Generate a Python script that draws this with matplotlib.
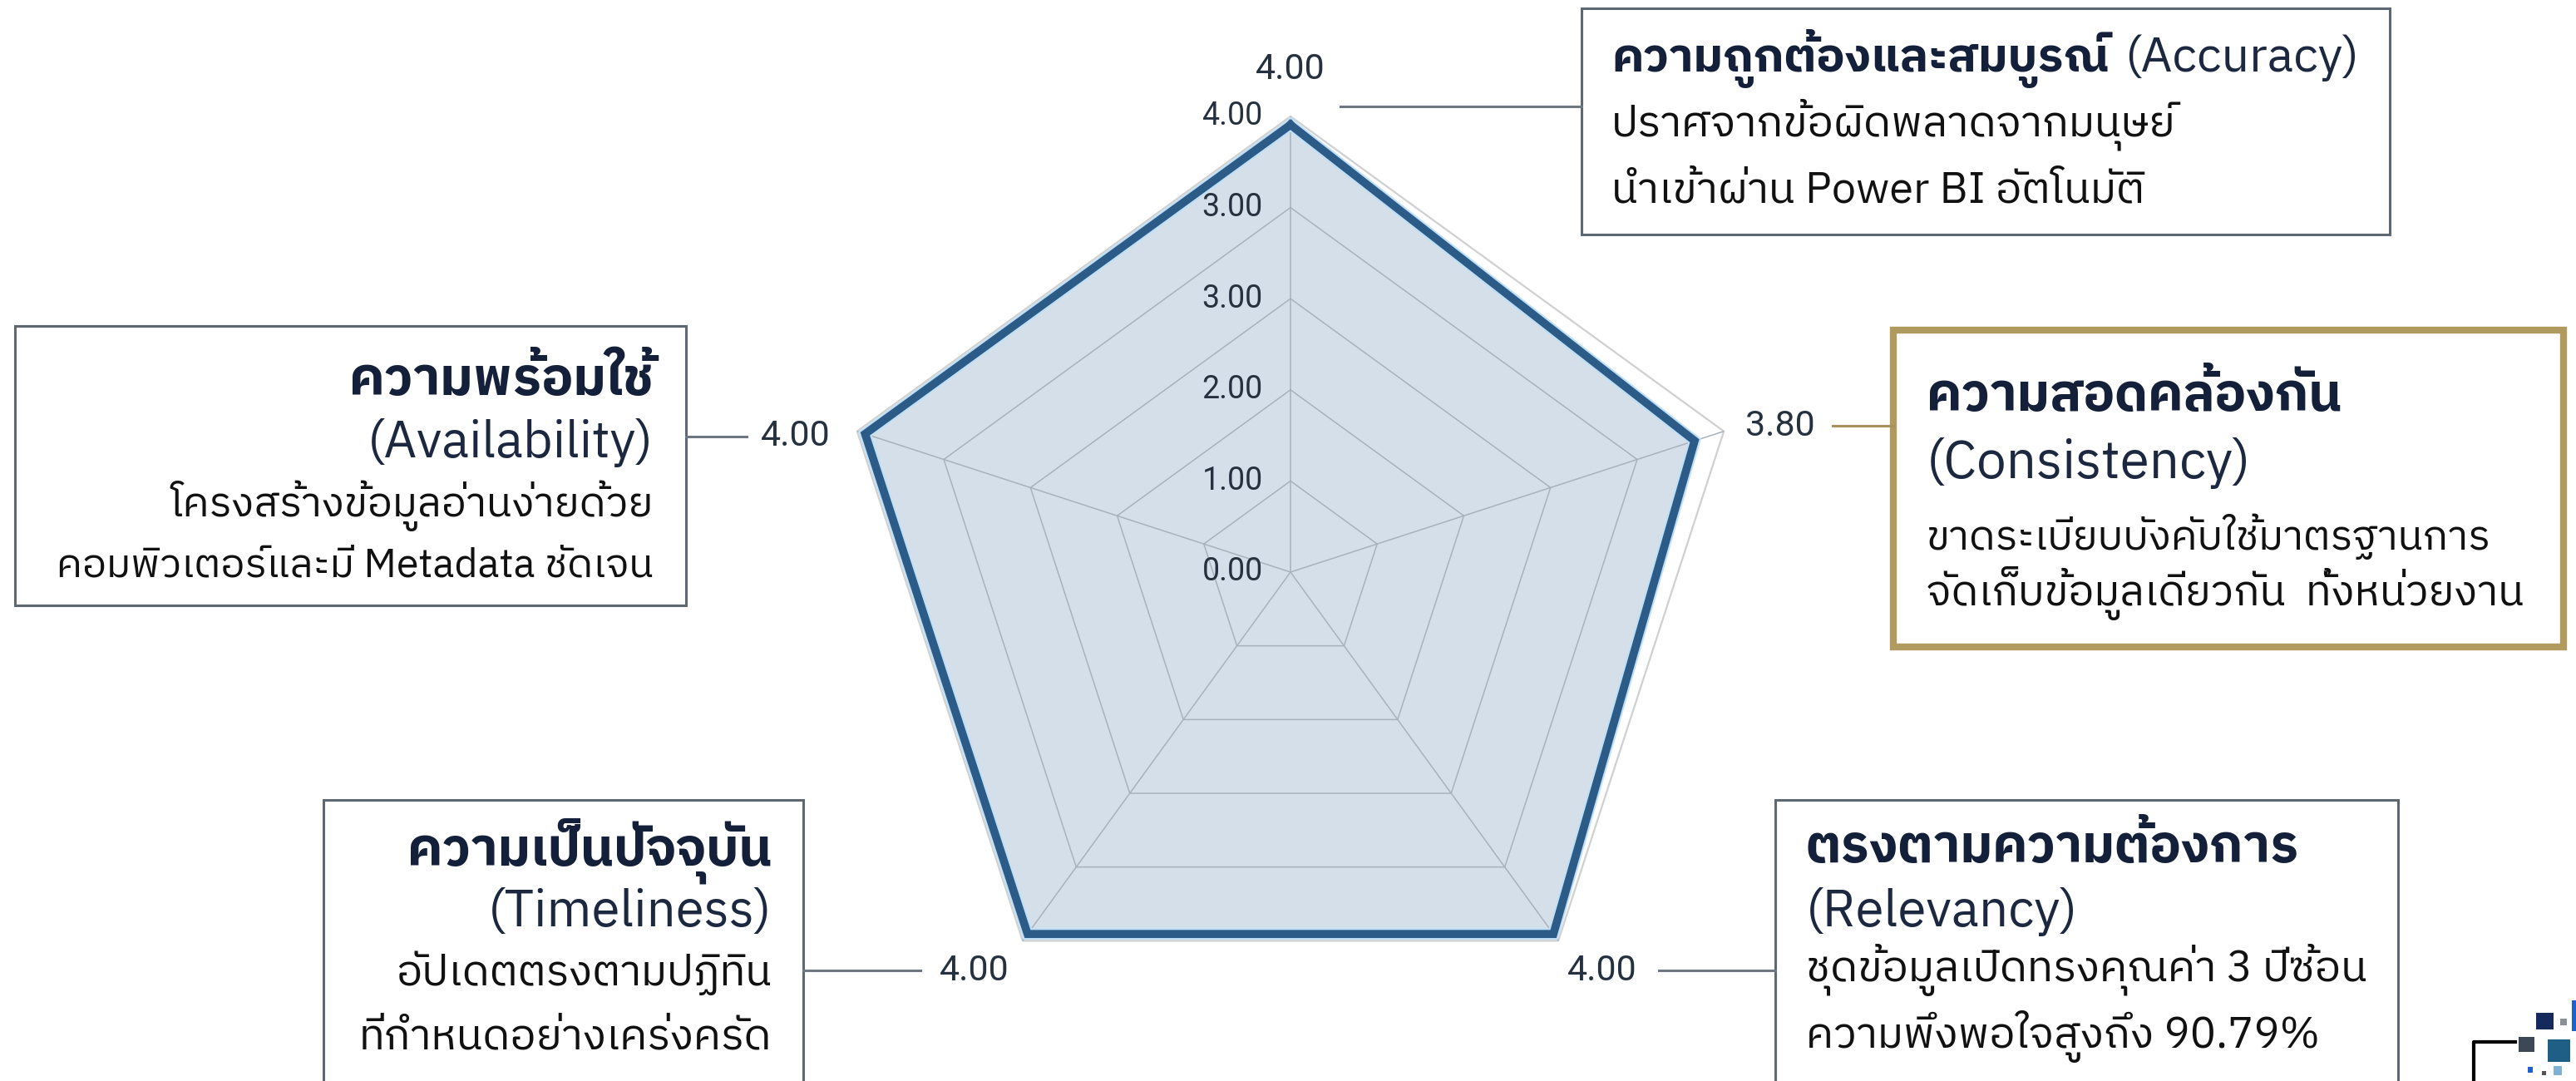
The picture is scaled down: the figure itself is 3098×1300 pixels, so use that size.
import matplotlib
matplotlib.use("Agg")
import matplotlib.pyplot as plt
from matplotlib.patches import Rectangle
from matplotlib.lines import Line2D
import numpy as np

THAI = ["IBM Plex Sans Thai", "Noto Sans Thai", "DejaVu Sans"]
NUM = ["Roboto", "DejaVu Sans"]
plt.rcParams["font.family"] = THAI

# ---- data ----
categories = ["Accuracy", "Consistency", "Relevancy", "Timeliness", "Availability"]
scores = [4.00, 3.80, 4.00, 4.00, 4.00]
score_labels = ["4.00", "3.80", "4.00", "4.00", "4.00"]
ring_levels = [0.0, 0.815, 1.63, 2.445, 3.26, 4.075]
ring_labels = ["0.00", "1.00", "2.00", "3.00", "3.00", "4.00"]

titles = ["ความถูกต้องและสมบูรณ์", "ความสอดคล้องกัน", "ตรงตามความต้องการ",
          "ความเป็นปัจจุบัน", "ความพร้อมใช้"]
subtitles = ["(Accuracy)", "(Consistency)", "(Relevancy)", "(Timeliness)", "(Availability)"]
notes = [
    ["ปราศจากข้อผิดพลาดจากมนุษย์", "นำเข้าผ่าน Power BI อัตโนมัติ"],
    ["ขาดระเบียบบังคับใช้มาตรฐานการ", "จัดเก็บข้อมูลเดียวกัน  ทั้งหน่วยงาน"],
    ["ชุดข้อมูลเปิดทรงคุณค่า 3 ปีซ้อน", "ความพึงพอใจสูงถึง 90.79%"],
    ["อัปเดตตรงตามปฏิทิน", "ที่กำหนดอย่างเคร่งครัด"],
    ["โครงสร้างข้อมูลอ่านง่ายด้วย", "คอมพิวเตอร์และมี Metadata ชัดเจน"],
]

W, H = 3098, 1300
NAVY = "#14203a"
GRID = "#a9b2bb"


def fx(px):
    return px / W


def fy(py):
    return 1 - py / H


fig = plt.figure(figsize=(W / 100, H / 100), dpi=100)
fig.patch.set_facecolor("white")
renderer = fig.canvas.get_renderer()

# ---- radar ----
ax = fig.add_axes([fx(1004), 64 / H, 1096 / W, 1096 / H], projection="polar")
ax.set_theta_offset(np.pi / 2)
ax.set_theta_direction(-1)
ax.set_ylim(0, ring_levels[-1])
ax.grid(False)
ax.spines["polar"].set_visible(False)
ax.set_xticks([])
ax.set_yticks([])
ax.patch.set_alpha(0)

angles = np.linspace(0, 2 * np.pi, len(categories), endpoint=False)
ang_c = np.append(angles, angles[0])
sc_c = np.append(scores, scores[0])

ax.fill(ang_c, sc_c, color="#d5dfe9", zorder=1)
for r in ring_levels[1:-1]:
    ax.plot(ang_c, [r] * len(ang_c), color=GRID, lw=1.1, zorder=2)
ax.plot(ang_c, [ring_levels[-1]] * len(ang_c), color="#d0d0d0", lw=1.6, zorder=2, clip_on=False)
for a in angles:
    ax.plot([a, a], [0, ring_levels[-1]], color=GRID, lw=1.1, zorder=2)
ax.plot(ang_c, sc_c, color="#bfe0f7", lw=10, zorder=3, solid_joinstyle="miter")
ax.plot(ang_c, sc_c, color="#2d5b88", lw=7, zorder=4, solid_joinstyle="miter")

for r, lab in zip(ring_levels, ring_labels):
    ax.annotate(lab, xy=(0, r), xytext=(-24, 0), textcoords="offset points",
                ha="right", va="center", fontsize=27, color="#26313f", zorder=5, family=NUM)

label_offsets = [(0, 48), (74, 13), (42, -32), (-46, -32), (-60, -2)]
for a, s, lab, off in zip(angles, scores, score_labels, label_offsets):
    ax.annotate(lab, xy=(a, s), xytext=off, textcoords="offset points",
                ha="center", va="center", fontsize=31, color="#26313f", zorder=5,
                annotation_clip=False, family=NUM)

# ---- leader lines ----
leaders = [((1612, 1902), 128, "#6f7882"), ((2204, 2277), 512, "#a8915a"),
           ((1995, 2135), 1167, "#6f7882"), ((966, 1107), 1167, "#6f7882"),
           ((825, 898), 525, "#6f7882")]
for (x0, x1), y, c in leaders:
    fig.add_artist(Line2D([fx(x0), fx(x1)], [fy(y), fy(y)], color=c, lw=2.2))

# ---- boxes ----
boxes = [(1902, 10, 2874, 282, "#5f6870", 2.2),
         (2277, 397, 3083, 778, "#b19a5e", 6.0),
         (2135, 962, 2884, 1340, "#5f6870", 2.2),
         (389, 962, 966, 1340, "#5f6870", 2.2),
         (18, 392, 825, 728, "#5f6870", 2.2)]
for x0, y0, x1, y1, ec, lw in boxes:
    fig.add_artist(Rectangle((fx(x0), fy(y1)), fx(x1) - fx(x0), fy(y0) - fy(y1),
                             transform=fig.transFigure, facecolor="white", edgecolor=ec, lw=lw))


def fit_text(x, y, s, width, ha, **kw):
    # size the text so that its width matches the reference
    t = fig.text(fx(x), fy(y), s, ha=ha, va="center", fontsize=30, **kw)
    w = t.get_window_extent(renderer).width
    t.set_fontsize(30 * width / w)
    return t


# text placement: (x, ha, title_y, (sub_x, sub_y), note_ys) and target widths
text_pos = [(1938, "left", 70, (2555, 70), [150, 230]),
            (2317, "left", 477, (2317, 557), [645, 713]),
            (2172, "left", 1020, (2172, 1097), [1167, 1247]),
            (928, "right", 1023, (928, 1097), [1170, 1247]),
            (786, "right", 457, (786, 533), [608, 680])]
text_w = [(597, 282, 680, 641),
          (498, 391, 678, 719),
          (592, 327, 675, 617),
          (437, 341, 453, 497),
          (365, 344, 582, 719)]
for (x, ha, ty, (sx, sy), nys), tw, t, st, nl in zip(text_pos, text_w, titles, subtitles, notes):
    fit_text(x, ty, t, tw[0], ha, fontweight="bold", color=NAVY)
    fit_text(sx, sy, st, tw[1], ha, color="#1c2840")
    for ny, line, w in zip(nys, nl, tw[2:]):
        fit_text(x, ny, line, w, ha, color="#111111")

# ---- small corner logo ----
logo = [(3050, 1218, 3071, 1238, "#142a5c"), (3079, 1225, 3087, 1233, "#8a9099"),
        (3093, 1203, 3098, 1240, "#1f5fd0"), (3064, 1250, 3091, 1277, "#1f5f86"),
        (3029, 1247, 3048, 1265, "#3e4756"), (3040, 1283, 3046, 1290, "#1f5fd0"),
        (3057, 1288, 3062, 1293, "#555555"), (3071, 1282, 3081, 1293, "#7fb0d6")]
for x0, y0, x1, y1, c in logo:
    fig.add_artist(Rectangle((fx(x0), fy(y1)), fx(x1) - fx(x0), fy(y0) - fy(y1),
                             transform=fig.transFigure, facecolor=c, edgecolor="none"))
fig.add_artist(Line2D([fx(2975), fx(2975), fx(3025)], [fy(1300), fy(1253), fy(1253)],
                      color="black", lw=3))

fig.savefig("out.png", dpi=100)
